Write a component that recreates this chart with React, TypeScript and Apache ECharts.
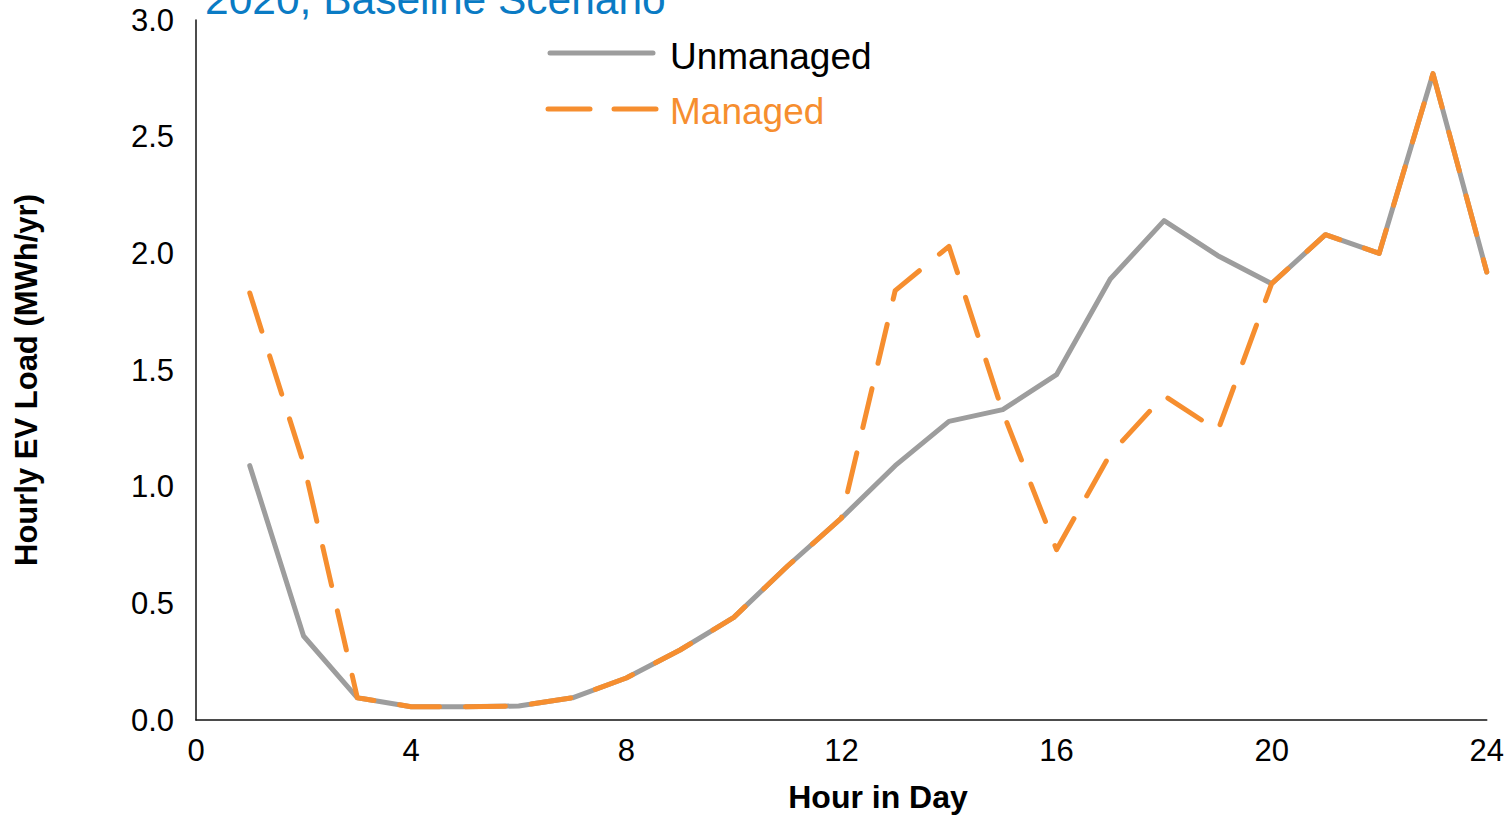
import React, { useEffect, useRef } from "react";
import * as echarts from "echarts";

const hours = [1, 2, 3, 4, 5, 6, 7, 8, 9, 10, 11, 12, 13, 14, 15, 16, 17, 18, 19, 20, 21, 22, 23, 24];
const unmanaged = [1.09, 0.36, 0.095, 0.057, 0.057, 0.06, 0.095, 0.18, 0.3, 0.44, 0.66, 0.865, 1.09, 1.28, 1.33, 1.48, 1.89, 2.14, 1.99, 1.87, 2.08, 2.0, 2.77, 1.92];
const managed = [1.83, 1.1, 0.095, 0.057, 0.057, 0.06, 0.095, 0.18, 0.3, 0.44, 0.66, 0.865, 1.84, 2.03, 1.32, 0.73, 1.14, 1.39, 1.24, 1.87, 2.08, 2.0, 2.77, 1.92];
const seriesNames = ["Unmanaged", "Managed"];
const titleText = "2020, Baseline Scenario";
const xAxisName = "Hour in Day";
const yAxisName = "Hourly EV Load (MWh/yr)";

const GRAY = "#9d9d9d";
const ORANGE = "#f68e2f";
const FONT = "'Liberation Sans', Arial, sans-serif";

export default function App() {
  const ref = useRef<HTMLDivElement>(null);
  useEffect(() => {
    if (!ref.current) return;
    const chart = echarts.init(ref.current, null, { renderer: "svg" });
    const dash = [40, 26];
    chart.setOption({
      animation: false,
      backgroundColor: "#ffffff",
      grid: { left: 196, right: 18, top: 20, bottom: 95, containLabel: false },
      xAxis: {
        type: "value",
        min: 0,
        max: 24,
        interval: 4,
        axisLine: { show: true, lineStyle: { color: "#111", width: 1.5 } },
        axisTick: { show: false },
        splitLine: { show: false },
        axisLabel: { color: "#000", fontSize: 31, fontFamily: FONT, margin: 15 },
      },
      yAxis: {
        type: "value",
        min: 0,
        max: 3,
        interval: 0.5,
        axisLine: { show: true, lineStyle: { color: "#111", width: 1.5 } },
        axisTick: { show: false },
        splitLine: { show: false },
        axisLabel: {
          color: "#000",
          fontSize: 31,
          fontFamily: FONT,
          margin: 22,
          formatter: (v: number) => v.toFixed(1),
        },
      },
      series: [
        {
          name: seriesNames[0],
          type: "line",
          data: hours.map((h, i) => [h, unmanaged[i]]),
          symbol: "none",
          lineStyle: { color: GRAY, width: 5, cap: "round", join: "round" },
          z: 2,
        },
        {
          name: seriesNames[1],
          type: "line",
          data: hours.map((h, i) => [h, managed[i]]),
          symbol: "none",
          lineStyle: { color: ORANGE, width: 5, type: dash, cap: "round", join: "round" },
          z: 3,
        },
      ],
      graphic: [
        {
          type: "text",
          left: 205,
          top: -22,
          style: { text: titleText, fill: "#0a7bc4", fontSize: 42.5, fontFamily: FONT },
        },
        {
          type: "text",
          x: 26,
          y: 380,
          rotation: Math.PI / 2,
          style: {
            text: yAxisName,
            fill: "#000",
            fontSize: 31,
            fontWeight: "bold",
            fontFamily: FONT,
            align: "center",
            verticalAlign: "middle",
          },
        },
        {
          type: "text",
          x: 878,
          y: 797,
          style: {
            text: xAxisName,
            fill: "#000",
            fontSize: 32,
            fontWeight: "bold",
            fontFamily: FONT,
            align: "center",
            verticalAlign: "middle",
          },
        },
        {
          type: "line",
          shape: { x1: 550, y1: 53, x2: 653, y2: 53 },
          style: { stroke: GRAY, lineWidth: 5, lineCap: "round" },
        },
        {
          type: "text",
          x: 670,
          y: 56,
          style: { text: seriesNames[0], fill: "#000", fontSize: 37, fontFamily: FONT, verticalAlign: "middle" },
        },
        {
          type: "line",
          shape: { x1: 548, y1: 109, x2: 590, y2: 109 },
          style: { stroke: ORANGE, lineWidth: 5, lineCap: "round" },
        },
        {
          type: "line",
          shape: { x1: 614, y1: 109, x2: 656, y2: 109 },
          style: { stroke: ORANGE, lineWidth: 5, lineCap: "round" },
        },
        {
          type: "text",
          x: 670,
          y: 111,
          style: { text: seriesNames[1], fill: ORANGE, fontSize: 37, fontFamily: FONT, verticalAlign: "middle" },
        },
      ],
    });
    return () => chart.dispose();
  }, []);
  return (
    <div
      ref={ref}
      style={{ position: "fixed", left: 0, top: 0, width: 1507, height: 815, background: "#fff" }}
    />
  );
}
